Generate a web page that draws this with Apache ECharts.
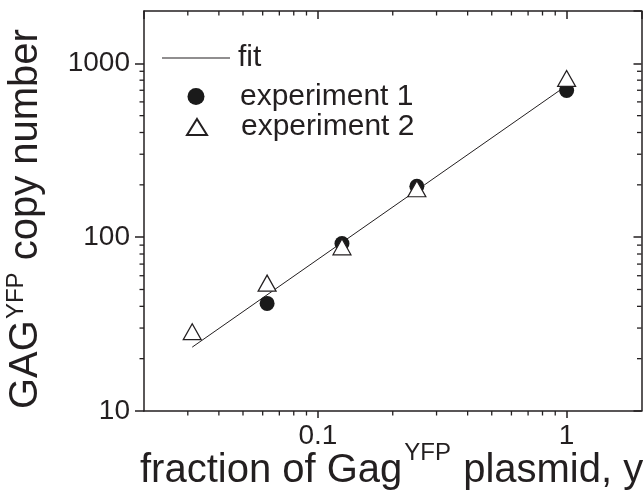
<!DOCTYPE html>
<html><head><meta charset="utf-8">
<script src="https://cdn.jsdelivr.net/npm/echarts@6/dist/echarts.min.js"></script>
<style>html,body{margin:0;padding:0;background:#fff}#c{width:643px;height:493px}</style>
</head><body><div id="c"></div>
<script>
// ---- data ----
const xMin = 0.02, xMax = 2;
const yMin = 10, yMax = 2000;
const xMinorTicks = [0.03,0.04,0.05,0.06,0.07,0.08,0.09,0.2,0.3,0.4,0.5,0.6,0.7,0.8,0.9];
const yMinorTicks = [20,30,40,50,60,70,80,90,200,300,400,500,600,700,800,900];
const exp1X = [0.0625, 0.125, 0.25, 1];
const exp1Y = [41.6, 92, 196, 698];
const exp2X = [0.03125, 0.0625, 0.125, 0.25, 1];
const exp2Y = [28.6, 54.4, 88, 190, 819];
const fitX = [0.03125, 1];
const fitY = [23.3, 745];
const seriesNames = ['fit', 'experiment 1', 'experiment 2'];

const FONT = 'Liberation Sans';
const INK = '#231f20';
const chart = echarts.init(document.getElementById('c'), null, {renderer:'canvas'});

const zip = (a,b) => a.map((v,i)=>[v,b[i]]);
function fmtPow(v){
  const l = Math.log10(v);
  if (Math.abs(l - Math.round(l)) > 1e-6) return '';
  const r = Math.round(l);
  return r >= 0 ? String(Math.pow(10,r)) : String(+Math.pow(10,r).toPrecision(1));
}
const mctx = document.createElement('canvas').getContext('2d');
function tw(t, s){ mctx.font = s + 'px "' + FONT + '"'; return mctx.measureText(t).width; }

function minorTickSeries(isX){
  return {
    type:'custom', coordinateSystem:'cartesian2d', xAxisIndex:0, yAxisIndex:0,
    silent:true, clip:false, z:5,
    data: isX ? xMinorTicks.map(v=>[v, yMin]) : yMinorTicks.map(v=>[xMin, v]),
    renderItem(params, api){
      const L = 4.5, st = {stroke:INK, lineWidth:1.3};
      if (isX){
        const v = api.value(0);
        const b = api.coord([v, yMin]), t = api.coord([v, yMax]);
        return {type:'group', children:[
          {type:'line', shape:{x1:b[0],y1:b[1],x2:b[0],y2:b[1]+L}, style:st},
          {type:'line', shape:{x1:t[0],y1:t[1],x2:t[0],y2:t[1]+L}, style:st}
        ]};
      } else {
        const v = api.value(1);
        const l = api.coord([xMin, v]), r = api.coord([xMax, v]);
        return {type:'group', children:[
          {type:'line', shape:{x1:l[0],y1:l[1],x2:l[0]-L,y2:l[1]}, style:st},
          {type:'line', shape:{x1:r[0],y1:r[1],x2:r[0]-L,y2:r[1]}, style:st}
        ]};
      }
    }
  };
}

const axisLine = {show:true, lineStyle:{color:INK, width:1.5}};
const baseX = {type:'log', min:xMin, max:xMax, splitLine:{show:false}, axisLine};
const baseY = {type:'log', min:yMin, max:yMax, splitLine:{show:false}, axisLine};

// titles as text pieces
const ts = 40, tsup = 24;
const xT1 = 'fraction of Gag', xT2 = 'YFP', xT3 = ' plasmid, y';
const xBase = 485, xLeft = 140;
const w1 = tw(xT1, ts), w2 = tw(xT2, tsup);
const yT1 = 'GAG', yT2 = 'YFP', yT3 = ' copy number';
const yw1 = tw(yT1, ts), yw2 = tw(yT2, tsup);

function txt(text, x, baseline, size){
  return {type:'text', x:x, y:baseline - 0.35*size,
    style:{text, fontFamily:FONT, fontSize:size, fill:INK, align:'left', verticalAlign:'middle', textAlign:'left', textVerticalAlign:'middle'}};
}
const legTxt = (pad) => ({fontFamily:FONT, fontSize:30, color:INK, padding:[0,0,0,pad]});

const option = {
  animation:false,
  backgroundColor:'#fff',
  grid:{left:144, right:1.5, top:11, bottom:82, containLabel:false},
  xAxis:[
    Object.assign({}, baseX, {position:'bottom',
      axisTick:{show:true, length:7, lineStyle:{color:INK, width:1.5}},
      axisLabel:{show:true, formatter:fmtPow, fontFamily:FONT, fontSize:28, color:INK, margin:11, showMinLabel:false, showMaxLabel:false}}),
    Object.assign({}, baseX, {position:'top',
      axisTick:{show:true, inside:true, length:8, lineStyle:{color:INK, width:1.5}},
      axisLabel:{show:false}})
  ],
  yAxis:[
    Object.assign({}, baseY, {position:'left',
      axisTick:{show:true, length:9, lineStyle:{color:INK, width:1.5}},
      axisLabel:{show:true, formatter:fmtPow, fontFamily:FONT, fontSize:28, color:INK, margin:14, showMaxLabel:false}}),
    Object.assign({}, baseY, {position:'right',
      axisTick:{show:true, inside:true, length:8, lineStyle:{color:INK, width:1.5}},
      axisLabel:{show:false}})
  ],
  legend:[
    {left:162, top:43, padding:0, itemWidth:68, itemHeight:1.2, selectedMode:false,
     data:[{name:seriesNames[0], icon:'rect'}], itemStyle:{color:INK}, textStyle:legTxt(3)},
    {left:187.5, top:81.5, padding:0, itemWidth:17, itemHeight:17, selectedMode:false,
     data:[seriesNames[1]], textStyle:legTxt(30.5)},
    {left:186, top:112, padding:0, itemWidth:20, itemHeight:16, selectedMode:false,
     data:[seriesNames[2]], textStyle:legTxt(29)}
  ],
  series:[
    {name:seriesNames[0], type:'line', data:zip(fitX, fitY), symbol:'none',
     lineStyle:{color:INK, width:1}, itemStyle:{color:INK}, z:2, silent:true},
    {name:seriesNames[1], type:'scatter', data:zip(exp1X, exp1Y), symbol:'circle', symbolSize:15,
     itemStyle:{color:'#1a1a1a', opacity:1}, z:3, silent:true},
    {name:seriesNames[2], type:'scatter', data:zip(exp2X, exp2Y), symbol:'triangle', symbolSize:[18,16],
     itemStyle:{color:'#fff', borderColor:INK, borderWidth:1.2, opacity:1}, z:4, silent:true},
    minorTickSeries(true), minorTickSeries(false)
  ],
  graphic:[
    {type:'group', children:[
      txt(xT1, xLeft, xBase, ts),
      txt(xT2, xLeft + w1 + 2, xBase - 23, tsup),
      txt(xT3, xLeft + w1 + w2 + 3, xBase, ts)
    ]},
    {type:'group', x:40, y:409, rotation:Math.PI/2, children:[
      txt(yT1, 0, 0, ts),
      txt(yT2, yw1 + 1, -15, tsup),
      txt(yT3, yw1 + yw2 + 2, 0, ts)
    ]}
  ]
};
chart.setOption(option);
</script></body></html>
